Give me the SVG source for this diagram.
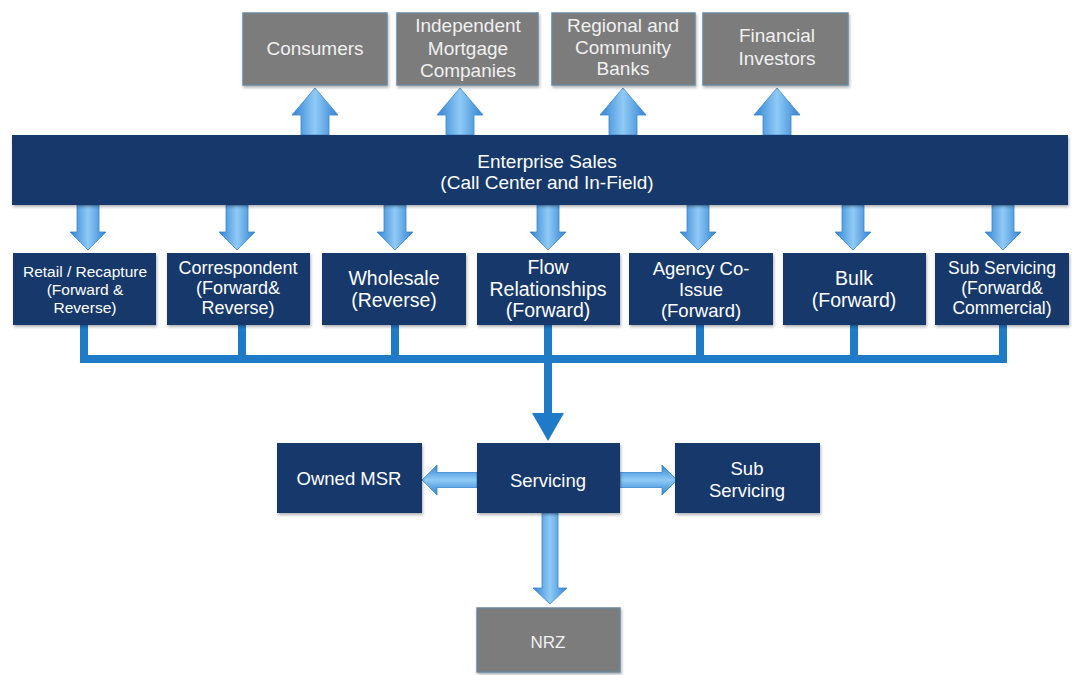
<svg xmlns="http://www.w3.org/2000/svg" width="1072" height="675" viewBox="0 0 1072 675">
<defs>
<style>
.gray{fill:#7b7b7b;stroke:#6a889f;stroke-width:1.5;filter:url(#sh)}
.navy{fill:#17396b;filter:url(#sh)}
.t{font-family:"Liberation Sans",Arial,sans-serif;text-anchor:middle;dominant-baseline:central}
.tw{fill:#ffffff}
.tg{fill:#f0f0f0}
.conn{fill:#1f7bc8}
.av{fill:url(#gv);stroke:#3a86cc;stroke-width:0.8}
.ah{fill:url(#gh);stroke:#3a86cc;stroke-width:0.8}
</style>
<linearGradient id="gv" x1="0" y1="0" x2="1" y2="0">
<stop offset="0" stop-color="#3383d3"/>
<stop offset="0.5" stop-color="#8fcaf5"/>
<stop offset="1" stop-color="#3383d3"/>
</linearGradient>
<linearGradient id="gh" x1="0" y1="0" x2="0" y2="1">
<stop offset="0" stop-color="#3383d3"/>
<stop offset="0.5" stop-color="#8fcaf5"/>
<stop offset="1" stop-color="#3383d3"/>
</linearGradient>
<filter id="sh" x="-10%" y="-10%" width="120%" height="130%">
<feDropShadow dx="1" dy="2" stdDeviation="1.5" flood-color="#000" flood-opacity="0.3"/>
</filter>
</defs>
<rect width="1072" height="675" fill="#ffffff"/>

<g id="connectors">
<!-- up arrows -->
<polygon class="av" points="301,135 301,115 292,115 315,88 338,115 329,115 329,135"/>
<polygon class="av" points="446,135 446,115 437,115 460,88 483,115 474,115 474,135"/>
<polygon class="av" points="609,135 609,115 600,115 623,88 646,115 637,115 637,135"/>
<polygon class="av" points="763,135 763,115 754,115 777,88 800,115 791,115 791,135"/>
<!-- down arrows -->
<polygon class="av" points="77,205 99,205 99,232 106,232 88,250 70,232 77,232"/>
<polygon class="av" points="226,205 248,205 248,232 255,232 237,250 219,232 226,232"/>
<polygon class="av" points="384,205 406,205 406,232 413,232 395,250 377,232 384,232"/>
<polygon class="av" points="537,205 559,205 559,232 566,232 548,250 530,232 537,232"/>
<polygon class="av" points="687,205 709,205 709,232 716,232 698,250 680,232 687,232"/>
<polygon class="av" points="842,205 864,205 864,232 871,232 853,250 835,232 842,232"/>
<polygon class="av" points="992,205 1014,205 1014,232 1021,232 1003,250 985,232 992,232"/>
<!-- collector lines -->
<rect class="conn" x="80" y="325" width="8" height="38"/>
<rect class="conn" x="238" y="325" width="8" height="38"/>
<rect class="conn" x="391" y="325" width="8" height="38"/>
<rect class="conn" x="544" y="325" width="8" height="38"/>
<rect class="conn" x="696" y="325" width="8" height="38"/>
<rect class="conn" x="850" y="325" width="8" height="38"/>
<rect class="conn" x="999" y="325" width="8" height="38"/>
<rect class="conn" x="80" y="355" width="927" height="8"/>
<rect class="conn" x="544" y="363" width="8" height="51"/>
<polygon class="conn" points="532,413 564,413 548,441"/>
<!-- servicing side arrows -->
<polygon class="ah" points="477,472.5 437,472.5 437,465 422,480 437,495 437,487.5 477,487.5"/>
<polygon class="ah" points="620,472.5 662,472.5 662,465 677,480 662,495 662,487.5 620,487.5"/>
<!-- to NRZ -->
<polygon class="av" points="542,513 558,513 558,588 567,588 550,604 533,588 542,588"/>
</g>

<g id="consumers"><rect class="gray" x="243" y="13" width="144" height="72"/><text class="t tg" x="315" y="48" font-size="19">Consumers</text></g>
<g id="independent"><rect class="gray" x="397" y="13" width="141" height="72"/><text class="t tg" font-size="19"><tspan x="468" y="25">Independent</tspan><tspan x="468" y="48">Mortgage</tspan><tspan x="468" y="70">Companies</tspan></text></g>
<g id="regional"><rect class="gray" x="552" y="13" width="143" height="72"/><text class="t tg" font-size="19"><tspan x="623" y="25">Regional and</tspan><tspan x="623" y="47">Community</tspan><tspan x="623" y="68">Banks</tspan></text></g>
<g id="financial"><rect class="gray" x="703" y="13" width="145" height="72"/><text class="t tg" font-size="19"><tspan x="777" y="35">Financial</tspan><tspan x="777" y="58">Investors</tspan></text></g>

<g id="enterprise"><rect class="navy" x="12" y="135" width="1056" height="70"/><text class="t tw" font-size="19"><tspan x="547" y="161">Enterprise Sales</tspan><tspan x="547" y="182">(Call Center and In-Field)</tspan></text></g>

<g id="retail"><rect class="navy" x="13" y="253" width="143" height="72"/><text class="t tw" font-size="15.5"><tspan x="85" y="271">Retail / Recapture</tspan><tspan x="85" y="289">(Forward &amp;</tspan><tspan x="85" y="307">Reverse)</tspan></text></g>
<g id="correspondent"><rect class="navy" x="167" y="253" width="143" height="72"/><text class="t tw" font-size="18"><tspan x="238" y="268">Correspondent</tspan><tspan x="238" y="288">(Forward&amp;</tspan><tspan x="238" y="308">Reverse)</tspan></text></g>
<g id="wholesale"><rect class="navy" x="322" y="253" width="144" height="72"/><text class="t tw" font-size="19.5"><tspan x="394" y="278">Wholesale</tspan><tspan x="394" y="300">(Reverse)</tspan></text></g>
<g id="flow"><rect class="navy" x="477" y="253" width="143" height="72"/><text class="t tw" font-size="19.5"><tspan x="548" y="267">Flow</tspan><tspan x="548" y="289">Relationships</tspan><tspan x="548" y="310">(Forward)</tspan></text></g>
<g id="agency"><rect class="navy" x="629" y="253" width="144" height="72"/><text class="t tw" font-size="18.5"><tspan x="701" y="268">Agency Co-</tspan><tspan x="701" y="289">Issue</tspan><tspan x="701" y="310">(Forward)</tspan></text></g>
<g id="bulk"><rect class="navy" x="783" y="253" width="143" height="72"/><text class="t tw" font-size="19.5"><tspan x="854" y="278">Bulk</tspan><tspan x="854" y="300">(Forward)</tspan></text></g>
<g id="subservicing-channel"><rect class="navy" x="935" y="253" width="134" height="72"/><text class="t tw" font-size="17.5"><tspan x="1002" y="268">Sub Servicing</tspan><tspan x="1002" y="288">(Forward&amp;</tspan><tspan x="1002" y="308">Commercial)</tspan></text></g>

<g id="owned-msr"><rect class="navy" x="277" y="443" width="145" height="70"/><text class="t tw" x="349" y="478" font-size="18.5">Owned MSR</text></g>
<g id="servicing"><rect class="navy" x="477" y="443" width="143" height="70"/><text class="t tw" x="548" y="480" font-size="18.5">Servicing</text></g>
<g id="sub-servicing"><rect class="navy" x="675" y="443" width="145" height="70"/><text class="t tw" font-size="18.5"><tspan x="747" y="468">Sub</tspan><tspan x="747" y="490">Servicing</tspan></text></g>
<g id="nrz"><rect class="gray" x="477" y="608" width="143" height="64"/><text class="t tg" x="548" y="642" font-size="17">NRZ</text></g>
</svg>
